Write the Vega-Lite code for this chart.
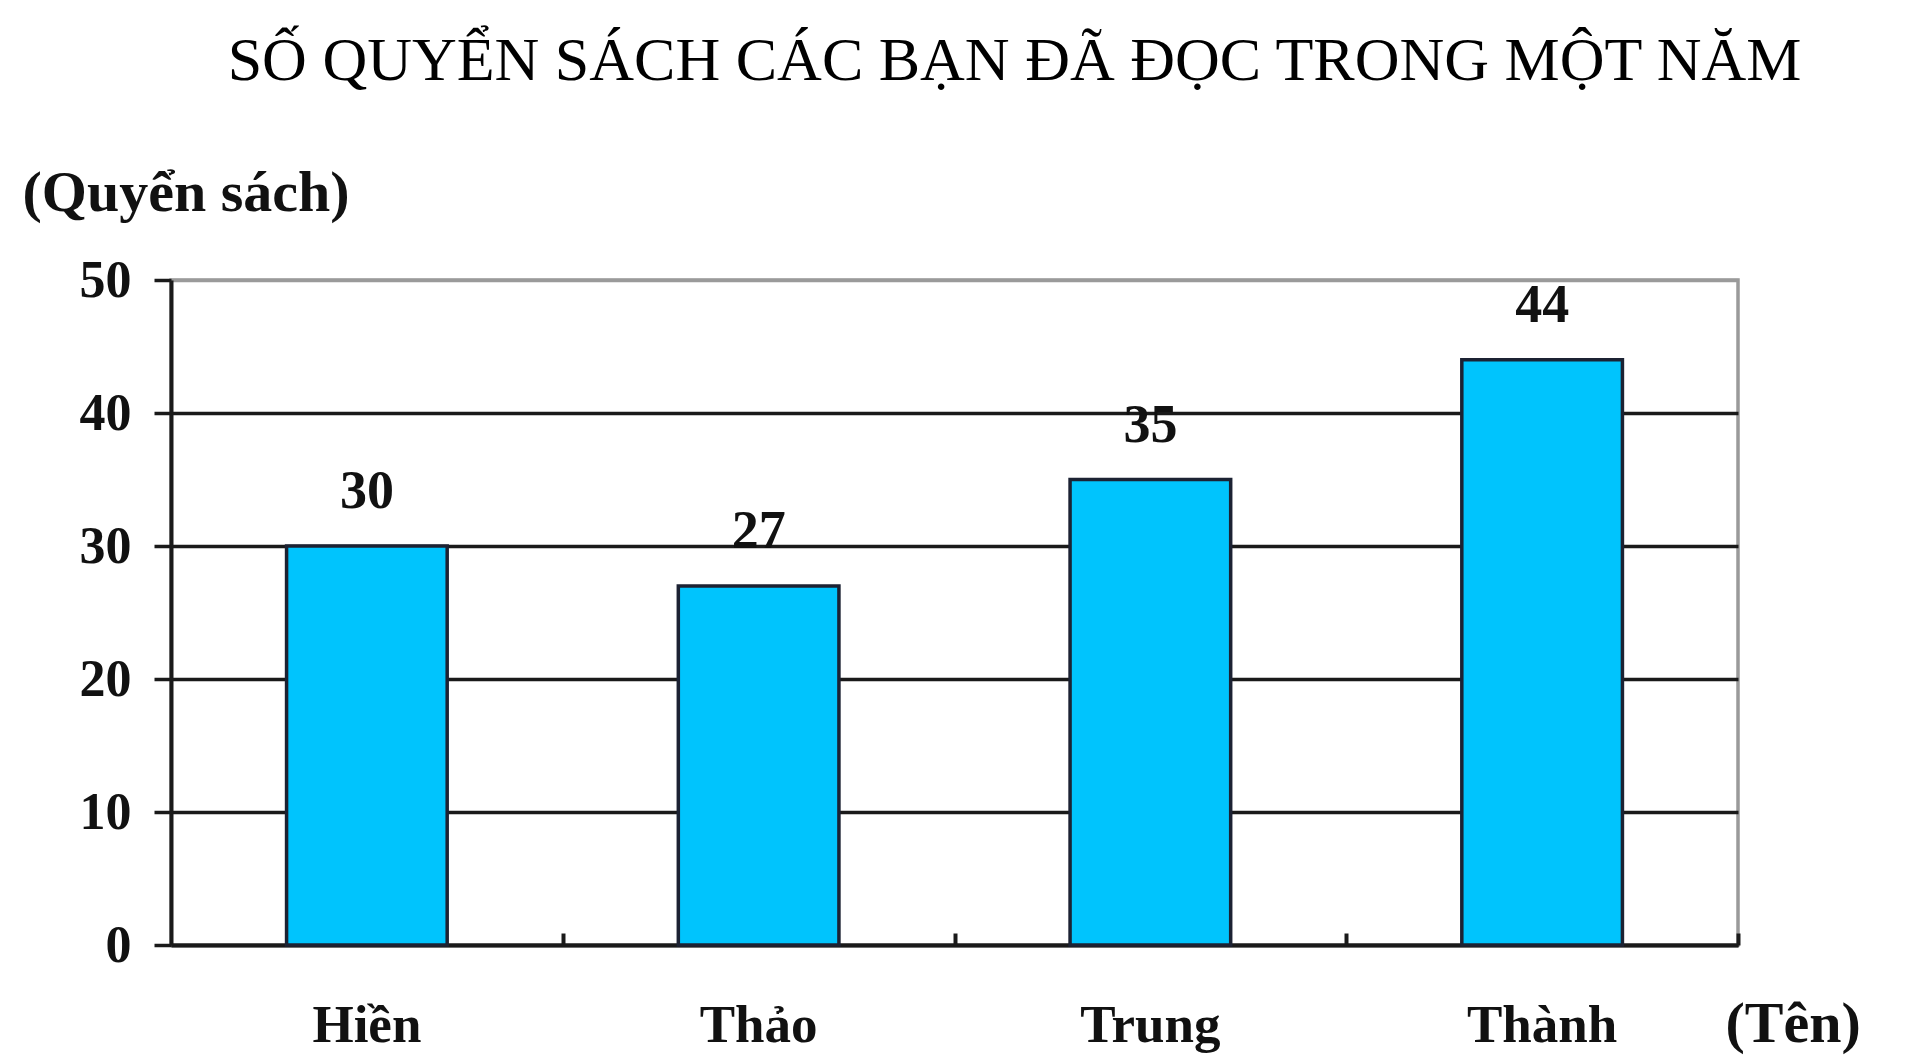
{
  "$schema": "https://vega.github.io/schema/vega-lite/v6.json",
  "autosize": "none",
  "width": 1567,
  "height": 665,
  "padding": {"left": 171, "top": 280, "right": 178, "bottom": 112},
  "background": "white",
  "title": {
    "text": "SỐ QUYỂN SÁCH CÁC BẠN ĐÃ ĐỌC TRONG MỘT NĂM",
    "font": "Liberation Serif",
    "fontSize": 62,
    "fontWeight": "normal",
    "color": "#000000",
    "anchor": "middle",
    "frame": "group",
    "baseline": "alphabetic",
    "dx": 60,
    "offset": 22
  },
  "config": {
    "view": {"stroke": "#9a9a9a", "strokeWidth": 3.5},
    "font": "Liberation Serif"
  },
  "data": {
    "values": [
      {"ten": "Hiền", "so": 30},
      {"ten": "Thảo", "so": 27},
      {"ten": "Trung", "so": 35},
      {"ten": "Thành", "so": 44}
    ]
  },
  "resolve": {"axis": {"x": "independent"}},
  "layer": [
    {
      "mark": {"type": "bar", "fill": "#00c4fd", "stroke": "#1c2233", "strokeWidth": 3.5},
      "encoding": {
        "x": {
          "field": "ten",
          "type": "nominal",
          "sort": null,
          "scale": {"paddingInner": 0.59, "paddingOuter": 0.295},
          "axis": {
            "orient": "bottom",
            "title": "(Tên)",
            "titleFont": "Liberation Serif",
            "titleFontSize": 58,
            "titleFontWeight": "bold",
            "titleColor": "#111111",
            "titleAlign": "left",
            "titleBaseline": "alphabetic",
            "titleX": 1554,
            "titleY": 96,
            "labelAngle": 0,
            "labelFont": "Liberation Serif",
            "labelFontSize": 53,
            "labelFontWeight": "bold",
            "labelColor": "#111111",
            "labelBaseline": "alphabetic",
            "labelPadding": 96,
            "domainColor": "#1a1a1a",
            "domainWidth": 4,
            "ticks": false,
            "grid": false
          }
        },
        "y": {
          "field": "so",
          "type": "quantitative",
          "scale": {"domain": [0, 50], "nice": false},
          "axis": {
            "values": [0, 10, 20, 30, 40, 50],
            "title": "(Quyển sách)",
            "titleFont": "Liberation Serif",
            "titleFontSize": 58,
            "titleFontWeight": "bold",
            "titleColor": "#111111",
            "titleAngle": 0,
            "titleAlign": "left",
            "titleBaseline": "alphabetic",
            "titleX": -149,
            "titleY": -70,
            "labelFont": "Liberation Serif",
            "labelFontSize": 52,
            "labelFontWeight": "bold",
            "labelColor": "#111111",
            "labelPadding": 23,
            "domainColor": "#1a1a1a",
            "domainWidth": 4,
            "tickColor": "#1a1a1a",
            "tickWidth": 3.5,
            "tickSize": 17,
            "grid": true,
            "gridColor": {"condition": {"test": "datum.value === 50", "value": "#9a9a9a"}, "value": "#1a1a1a"},
            "gridWidth": 3.5,
            "gridOpacity": 1
          }
        }
      }
    },
    {
      "mark": {
        "type": "text",
        "font": "Liberation Serif",
        "fontSize": 54,
        "fontWeight": "bold",
        "color": "#111111",
        "baseline": "alphabetic",
        "dy": -38
      },
      "encoding": {
        "x": {
          "field": "ten",
          "type": "nominal",
          "sort": null,
          "axis": {
            "orient": "top",
            "offset": -665,
            "labels": false,
            "domain": false,
            "title": null,
            "grid": false,
            "ticks": true,
            "tickOffset": 196,
            "tickColor": "#1a1a1a",
            "tickWidth": 4,
            "tickSize": 12
          }
        },
        "y": {"field": "so", "type": "quantitative"},
        "text": {"field": "so", "type": "quantitative"}
      }
    }
  ]
}
